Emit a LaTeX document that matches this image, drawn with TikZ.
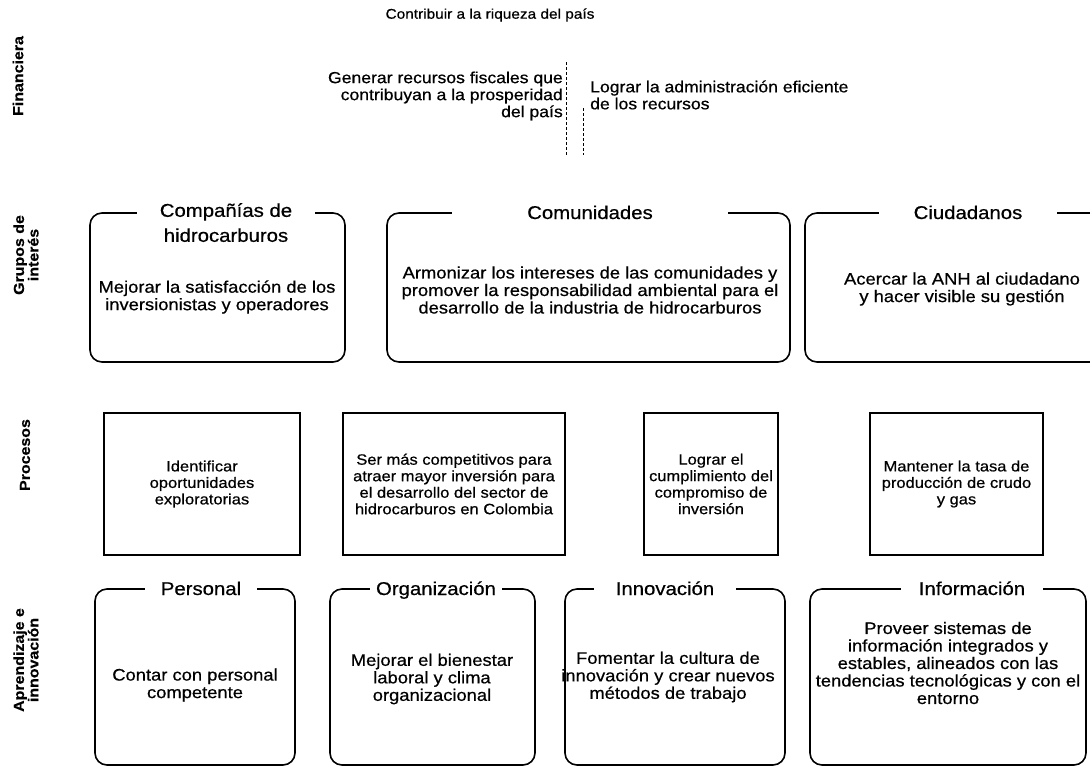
\documentclass[tikz,border=0pt]{standalone}
\usepackage{fontspec}
\setmainfont{Liberation Sans}[FakeStretch=1.1, FakeBold=0.6]
\usetikzlibrary{positioning}

\begin{document}
\begin{tikzpicture}[
  x=1pt, y=-1pt,
  font=\fontsize{16.7}{17.5}\selectfont,
  marco/.style={draw=black, line width=1.6pt, rounded corners=12pt},
  caja/.style={draw=black, line width=1.6pt},
  titulo/.style={fill=white, inner xsep=#1, inner ysep=0pt, align=center,
    anchor=base, font=\fontsize{18.5}{25}\selectfont},
  texto/.style={align=center, inner sep=0pt},
  proc/.style={align=center, inner sep=0pt, font=\fontsize{15}{16.5}\selectfont},
  perspectiva/.style={rotate=90, align=center, inner sep=0pt,
    font=\bfseries\fontsize{14.5}{14.5}\selectfont},
  corte/.style={densely dashed, line width=0.6pt}
]
\useasboundingbox (0,0) rectangle (1090,772);
\clip (0,0) rectangle (1090,772);

% perspectivas
\node[perspectiva] (lfin) at (18,76) {Financiera};
\node[perspectiva] (lgru) at (26,255) {Grupos de\\interés};
\node[perspectiva] (lpro) at (25,455) {Procesos};
\node[perspectiva] (lapr) at (26,660) {Aprendizaje e\\innovación};

% financiera
\node[texto, font=\fontsize{14}{22}\selectfont] (riqueza) at (490,15)
  {Contribuir a la riqueza del país};
\node[texto, align=right, anchor=east, font=\fontsize{16}{17}\selectfont] (fiscales) at (563,96)
  {Generar recursos fiscales que\\contribuyan a la prosperidad\\del país};
\node[texto, align=left, anchor=west, font=\fontsize{16}{17}\selectfont] (eficiente) at (590,95)
  {Lograr la administración eficiente\\de los recursos};
\coordinate (c1a) at (566,62);
\coordinate (c1b) at (566,155);
\coordinate (c2a) at (583,108);
\coordinate (c2b) at (583,155);
\draw[corte] (c1a) -- (c1b);
\draw[corte] (c2a) -- (c2b);

% grupos de interes
\node[marco, minimum width=255, minimum height=149] (compania) at (217.5,287.5) {};
\node[marco, minimum width=403, minimum height=149] (comunidad) at (588.5,287.5) {};
\node[marco, minimum width=300, minimum height=149] (ciudadano) at (955,287.5) {};
\node[titulo=23pt, anchor=north] (tcompania) at (226,203) {Compañías de\\hidrocarburos};
\node[titulo=75pt] (tcomunidad) at (590,219) {Comunidades};
\node[titulo=35pt] (tciudadano) at (968,219) {Ciudadanos};
\node[texto] (mcompania) at (217,297)
  {Mejorar la satisfacción de los\\inversionistas y operadores};
\node[texto] (mcomunidad) at (590,290)
  {Armonizar los intereses de las comunidades y\\promover la responsabilidad ambiental para el\\desarrollo de la industria de hidrocarburos};
\node[texto] (mciudadano) at (962,289)
  {Acercar la ANH al ciudadano\\y hacer visible su gestión};

% procesos
\node[caja, minimum width=196, minimum height=142] (exploracion) at (202,484) {};
\node[caja, minimum width=222, minimum height=142] (inversion) at (454,484) {};
\node[caja, minimum width=134, minimum height=142] (compromiso) at (711,484) {};
\node[caja, minimum width=173, minimum height=142] (produccion) at (956.5,484) {};
\node[proc] (mexploracion) at (exploracion) {Identificar\\oportunidades\\exploratorias};
\node[proc] (minversion) at (inversion)
  {Ser más competitivos para\\atraer mayor inversión para\\el desarrollo del sector de\\hidrocarburos en Colombia};
\node[proc] (mcompromiso) at (compromiso)
  {Lograr el\\cumplimiento del\\compromiso de\\inversión};
\node[proc] (mproduccion) at (produccion)
  {Mantener la tasa de\\producción de crudo\\y gas};

% aprendizaje e innovacion
\node[marco, minimum width=200, minimum height=176] (personal) at (195,677) {};
\node[marco, minimum width=205, minimum height=176] (organizacion) at (432.5,677) {};
\node[marco, minimum width=220, minimum height=176] (innovacion) at (675,677) {};
\node[marco, minimum width=276, minimum height=176] (informacion) at (948,677) {};
\node[titulo=16pt] (tpersonal) at (201,595) {Personal};
\node[titulo=6pt] (torganizacion) at (436,595) {Organización};
\node[titulo=22pt] (tinnovacion) at (665,595) {Innovación};
\node[titulo=18pt] (tinformacion) at (972,595) {Información};
\node[texto] (mpersonal) at (195,685) {Contar con personal\\competente};
\node[texto] (morganizacion) at (432,679)
  {Mejorar el bienestar\\laboral y clima\\organizacional};
\node[texto] (minnovacion) at (668,677)
  {Fomentar la cultura de\\innovación y crear nuevos\\métodos de trabajo};
\node[texto] (minformacion) at (948,663)
  {Proveer sistemas de\\información integrados y\\estables, alineados con las\\tendencias tecnológicas y con el\\entorno};
\end{tikzpicture}
\end{document}
